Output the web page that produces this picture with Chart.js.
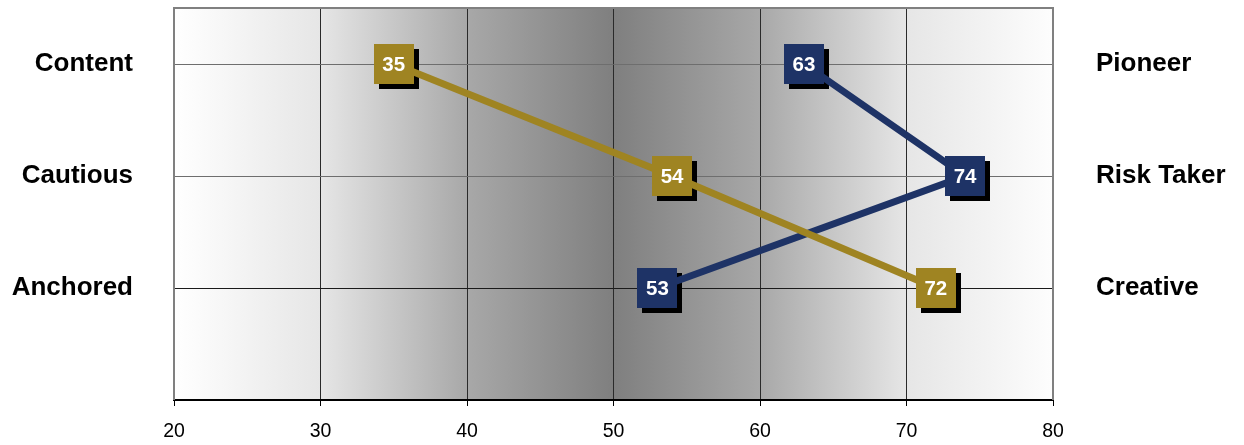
<!DOCTYPE html>
<html>
<head>
<meta charset="utf-8">
<script src="https://cdn.jsdelivr.net/npm/chart.js@4/dist/chart.umd.min.js"></script>
<style>
  html, body { margin: 0; padding: 0; background: #ffffff; }
  #wrap { width: 1244px; height: 445px; }
</style>
</head>
<body>
<div id="wrap"><canvas id="chart" width="1244" height="445"></canvas></div>
<script>
// Row levels (top row = 3) and the trait pairs shown at each end of a row
const rowLevels = [3, 2, 1];
const leftTraits = ['Content', 'Cautious', 'Anchored'];
const rightTraits = ['Pioneer', 'Risk Taker', 'Creative'];

// Scores per row, on the 20–80 scale
const goldScores = [35, 54, 72];
const navyScores = [63, 74, 53];

// Bottom axis
const xTicks = [20, 30, 40, 50, 60, 70, 80];

const GOLD = '#9f8422';
const NAVY = '#1e3366';
const FONT = "'Liberation Sans', Arial, Helvetica, sans-serif";

const toPoints = scores => scores.map((v, i) => ({ x: v, y: rowLevels[i] }));

function traitFor(list, value) {
  const i = rowLevels.indexOf(value);
  return i >= 0 ? list[i] : '';
}

// Grey-to-white horizontal shading behind the plot
const shadingPlugin = {
  id: 'shading',
  beforeDraw(chart) {
    const { ctx, chartArea: a } = chart;
    const g = ctx.createLinearGradient(a.left, 0, a.right, 0);
    g.addColorStop(0, '#ffffff');
    g.addColorStop(1 / 6, '#e6e6e6');
    g.addColorStop(2 / 6, '#a8a8a8');
    g.addColorStop(0.5, '#7f7f7f');
    g.addColorStop(4 / 6, '#a8a8a8');
    g.addColorStop(5 / 6, '#e6e6e6');
    g.addColorStop(1, '#fdfdfd');
    ctx.save();
    ctx.fillStyle = g;
    ctx.fillRect(a.left, a.top, a.right - a.left, a.bottom - a.top);
    ctx.restore();
  },
  afterDraw(chart) {
    // grey frame on top, left and right
    const { ctx, chartArea: a } = chart;
    ctx.save();
    ctx.strokeStyle = '#808080';
    ctx.lineWidth = 2;
    ctx.beginPath();
    ctx.moveTo(a.left, a.bottom);
    ctx.lineTo(a.left, a.top);
    ctx.lineTo(a.right, a.top);
    ctx.lineTo(a.right, a.bottom);
    ctx.stroke();
    ctx.restore();
  }
};

// Square markers with a drop shadow and the score printed inside
const MARK = 40;
const SHADOW = 5;
const markerPlugin = {
  id: 'markers',
  beforeDatasetsDraw(chart) {
    const ctx = chart.ctx;
    ctx.save();
    ctx.fillStyle = '#000000';
    chart.data.datasets.forEach((ds, di) => {
      chart.getDatasetMeta(di).data.forEach(pt => {
        ctx.fillRect(Math.round(pt.x - MARK / 2 + SHADOW), Math.round(pt.y - MARK / 2 + SHADOW), MARK, MARK);
      });
    });
    ctx.restore();
  },
  afterDatasetsDraw(chart) {
    const ctx = chart.ctx;
    ctx.save();
    chart.data.datasets.forEach((ds, di) => {
      const meta = chart.getDatasetMeta(di);
      meta.data.forEach((pt, i) => {
        ctx.fillStyle = ds.borderColor;
        ctx.fillRect(Math.round(pt.x - MARK / 2), Math.round(pt.y - MARK / 2), MARK, MARK);
        ctx.fillStyle = '#ffffff';
        ctx.font = 'bold 20.5px ' + FONT;
        ctx.textAlign = 'center';
        ctx.textBaseline = 'middle';
        ctx.fillText(String(ds.data[i].x), pt.x, pt.y + 1);
      });
    });
    ctx.restore();
  }
};

// keep the vertical axes from reserving room above/below the plot
const noVPad = s => { s.paddingTop = 0; s.paddingBottom = 0; };

new Chart(document.getElementById('chart'), {
  type: 'line',
  data: {
    datasets: [
      {
        label: 'Profile A',
        data: toPoints(goldScores),
        borderColor: GOLD,
        backgroundColor: GOLD,
        borderWidth: 7,
        pointRadius: 0,
        pointHoverRadius: 0,
        fill: false,
        tension: 0
      },
      {
        label: 'Profile B',
        data: toPoints(navyScores),
        borderColor: NAVY,
        backgroundColor: NAVY,
        borderWidth: 7,
        pointRadius: 0,
        pointHoverRadius: 0,
        fill: false,
        tension: 0
      }
    ]
  },
  options: {
    responsive: false,
    devicePixelRatio: 1,
    animation: false,
    layout: { padding: { top: 8, left: 0, right: 0, bottom: 0 } },
    plugins: {
      legend: { display: false },
      tooltip: { enabled: false }
    },
    scales: {
      x: {
        type: 'linear',
        position: 'bottom',
        min: xTicks[0],
        max: xTicks[xTicks.length - 1],
        afterBuildTicks: s => { s.ticks = xTicks.map(v => ({ value: v })); },
        afterFit: s => { s.height = 45; s.paddingLeft = 0; s.paddingRight = 0; },
        border: { display: true, color: '#000000', width: 2 },
        grid: {
          color: c => (c.tick && (c.tick.value === xTicks[0] || c.tick.value === xTicks[xTicks.length - 1])) ? 'rgba(0,0,0,0)' : '#2a2a2a',
          lineWidth: 1,
          drawTicks: true,
          tickLength: 6,
          tickColor: '#000000',
          tickWidth: 1
        },
        ticks: {
          color: '#000000',
          padding: 14,
          font: { family: FONT, size: 19.5 },
          maxRotation: 0
        }
      },
      y: {
        type: 'linear',
        position: 'left',
        min: 0,
        max: 3.5,
        afterFit: s => { s.width = 174; noVPad(s); },
        border: { display: false },
        grid: {
          color: c => {
            const v = c.tick ? c.tick.value : 0;
            if (v === 1) return '#1a1a1a';
            if (v === 2 || v === 3) return '#6e6e6e';
            return 'rgba(0,0,0,0)';
          },
          lineWidth: 1,
          drawTicks: false
        },
        ticks: {
          stepSize: 1,
          includeBounds: false,
          padding: 41,
          color: '#000000',
          font: { family: FONT, size: 26, weight: 'bold' },
          callback: v => traitFor(leftTraits, v)
        }
      },
      y2: {
        type: 'linear',
        position: 'right',
        min: 0,
        max: 3.5,
        afterFit: s => { s.width = 191; noVPad(s); },
        border: { display: false },
        grid: { drawOnChartArea: false, drawTicks: false },
        ticks: {
          stepSize: 1,
          includeBounds: false,
          padding: 43,
          color: '#000000',
          font: { family: FONT, size: 26, weight: 'bold' },
          callback: v => traitFor(rightTraits, v)
        }
      }
    }
  },
  plugins: [shadingPlugin, markerPlugin]
});
</script>
</body>
</html>
